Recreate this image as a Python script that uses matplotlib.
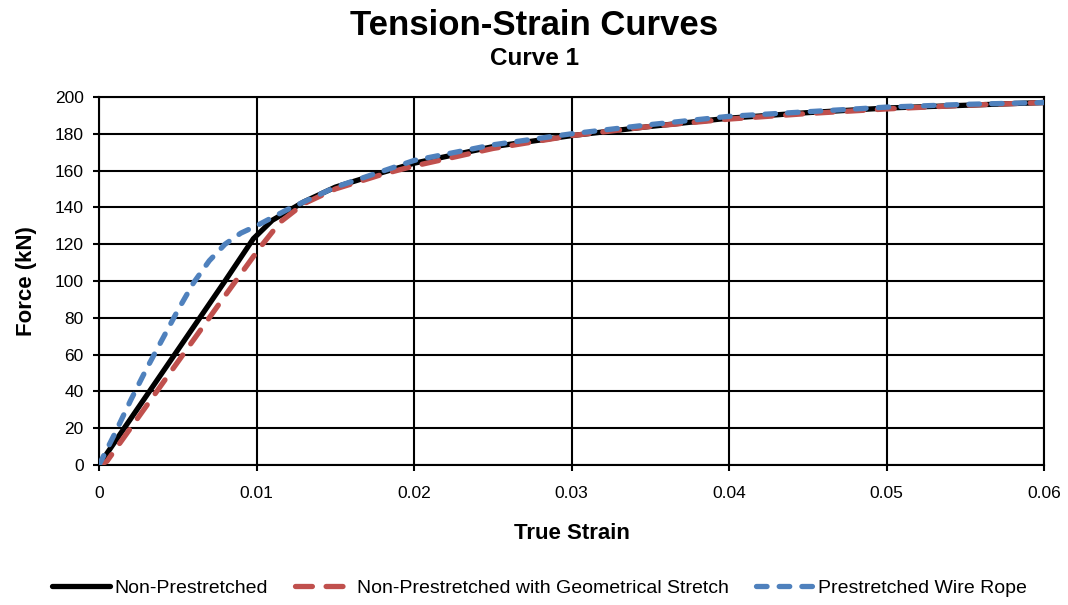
import matplotlib
matplotlib.use("Agg")
import matplotlib.pyplot as plt

plt.rcParams['font.family'] = ['Liberation Sans', 'DejaVu Sans']

# curve data
strain_np = [0, 0.002, 0.004, 0.006, 0.008, 0.0098, 0.011, 0.013, 0.015, 0.018,
             0.02, 0.025, 0.03, 0.035, 0.04, 0.045, 0.05, 0.055, 0.06]
force_np = [0, 25, 50, 75, 100, 123, 133, 143, 151, 159,
            164, 173, 179, 184, 188.5, 191.5, 194, 195.5, 197]

strain_geo = [0, 0.0005, 0.002, 0.004, 0.006, 0.008, 0.0102, 0.0115, 0.013, 0.015,
              0.018, 0.02, 0.025, 0.03, 0.035, 0.04, 0.045, 0.05, 0.055, 0.06]
force_geo = [0, 2, 20, 44, 68, 92, 118, 132, 142, 150,
             158, 162.5, 172, 179, 184, 188, 191, 193.5, 195.5, 197]

strain_pre = [0, 0.001, 0.002, 0.003, 0.004, 0.005, 0.006, 0.007, 0.008, 0.009,
              0.01, 0.012, 0.015, 0.02, 0.025, 0.03, 0.035, 0.04, 0.045, 0.05,
              0.055, 0.06]
force_pre = [0, 17, 35, 52, 68, 84, 99, 111, 120, 126,
             130, 139, 151, 165.5, 174, 180, 185, 189.5, 192, 194.5,
             196, 197]

labels = ['Non-Prestretched', 'Non-Prestretched with Geometrical Stretch',
          'Prestretched Wire Rope']

fig = plt.figure(figsize=(10.68, 6.05), dpi=100)
ax = fig.add_axes([0.0927, 0.2314, 0.885, 0.6083])

ax.plot(strain_np, force_np, color='black', lw=3.8, solid_capstyle='round',
        label=labels[0], zorder=3)
ax.plot(strain_geo, force_geo, color='#c0504d', lw=3.8, dash_capstyle='round',
        dashes=(3.2, 2.6), label=labels[1], zorder=4)
ax.plot(strain_pre, force_pre, color='#4f81bd', lw=3.8, dash_capstyle='round',
        dashes=(2.0, 2.3), label=labels[2], zorder=5)

ax.set_xlim(0, 0.06)
ax.set_ylim(0, 200)
ax.set_xticks([0, 0.01, 0.02, 0.03, 0.04, 0.05, 0.06])
ax.set_xticklabels(['0', '0.01', '0.02', '0.03', '0.04', '0.05', '0.06'])
ax.set_yticks(range(0, 201, 20))
ax.grid(True, color='black', lw=1.5)
ax.set_axisbelow(True)
for s in ax.spines.values():
    s.set_linewidth(1.5)
ax.tick_params(labelsize=12.5, length=4, width=1.5, pad=7)
ax.tick_params(axis='x', pad=11)

ax.set_xlabel('True Strain', fontsize=16, fontweight='bold', labelpad=16)
ax.set_ylabel('Force (kN)', fontsize=16, fontweight='bold', labelpad=13)

fig.text(0.5, 0.958, 'Tension-Strain Curves', ha='center', va='center',
         fontsize=25, fontweight='bold')
fig.text(0.5, 0.903, 'Curve 1', ha='center', va='center',
         fontsize=17.5, fontweight='bold')

leg = fig.legend(loc='center', bbox_to_anchor=(0.505, 0.028), ncol=3, frameon=False,
                 fontsize=14, handlelength=3.0, handletextpad=0.2, columnspacing=1.4)

fig.savefig('out.png', dpi=100)
